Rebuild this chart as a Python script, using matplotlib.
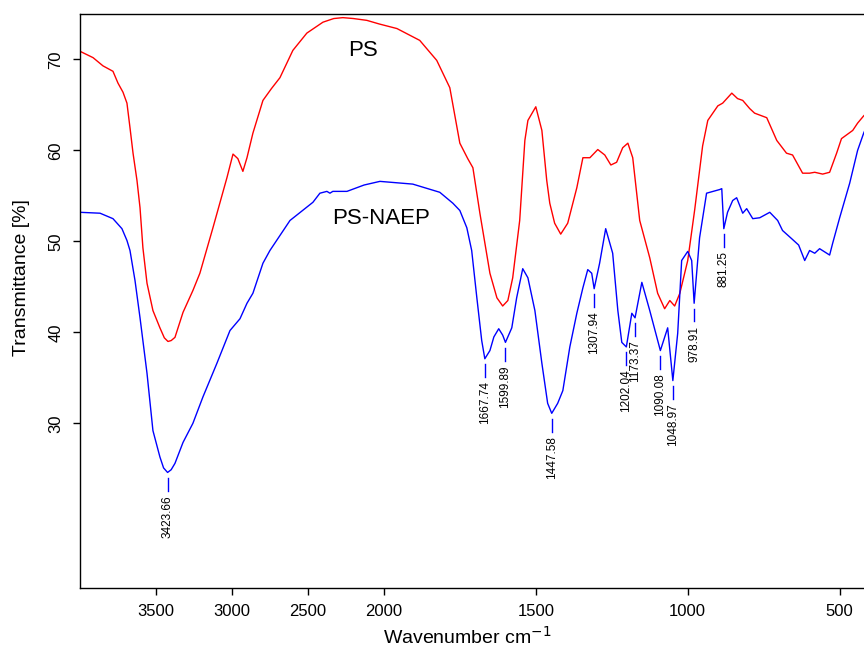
import numpy as np
import matplotlib
matplotlib.use('Agg')
import matplotlib.pyplot as plt

plt.rcParams['font.family'] = ['Liberation Sans', 'DejaVu Sans']

# PS spectrum (wavenumber cm-1, transmittance %)
ps_wn = [4000, 3914, 3849, 3783, 3750, 3717, 3691, 3671, 3651, 3625, 3605, 3586,
         3559, 3520, 3474, 3445, 3421, 3400, 3375, 3322, 3257, 3211, 3125, 3033, 2993, 2961,
         2928, 2901, 2862, 2796, 2740, 2684, 2599, 2507, 2401, 2330, 2270, 2200, 2112, 2030,
         1957, 1882, 1826, 1783, 1750, 1724, 1707, 1684, 1651, 1628, 1609, 1592, 1576, 1553,
         1536, 1526, 1500, 1480, 1464, 1454, 1438, 1418, 1395, 1365, 1345, 1322,
         1296, 1273, 1253, 1234, 1214, 1197, 1181, 1158, 1125, 1099, 1076, 1059,
         1043, 1026, 1000, 977, 951, 934, 901, 885, 855, 836, 819, 796, 780, 740,
         707, 675, 655, 622, 599, 582, 556, 533, 510, 494, 457, 441, 421, 400]
ps_t = [70.9, 70.2, 69.3, 68.7, 67.4, 66.4, 65.2, 62.5, 59.7, 56.7, 53.7, 49.3,
        45.4, 42.4, 40.5, 39.4, 39.0, 39.1, 39.45, 42.2, 44.6, 46.5, 51.5, 57.0, 59.6, 59.1,
        57.7, 59.2, 61.9, 65.5, 66.8, 68.0, 71.0, 72.9, 74.1, 74.5, 74.6, 74.5, 74.3, 73.9,
        73.4, 72.1, 69.9, 66.9, 60.8, 59.1, 58.1, 53.1, 46.5, 43.8, 42.9, 43.5, 46.0, 52.3,
        61.1, 63.3, 64.8, 62.2, 56.7, 54.2, 52.0, 50.8, 52.0, 55.9, 59.2, 59.2,
        60.1, 59.5, 58.4, 58.7, 60.3, 60.8, 59.2, 52.3, 48.2, 44.3, 42.6, 43.5,
        42.9, 44.3, 47.9, 53.5, 60.5, 63.3, 64.9, 65.2, 66.3, 65.7, 65.5, 64.6, 64.1, 63.6,
        61.1, 59.7, 59.5, 57.5, 57.5, 57.6, 57.4, 57.6, 59.7, 61.3, 62.2, 63.0, 63.8, 64.5]

# PS-NAEP spectrum
naep_wn = [4000, 3868, 3783, 3724, 3691, 3671, 3638, 3605, 3559, 3520, 3474, 3450, 3423.66,
           3400, 3375, 3322, 3257, 3191, 3099, 3013, 2947, 2901, 2862, 2796, 2750, 2618,
           2467, 2421, 2375, 2355, 2336, 2243, 2130, 2026, 1905, 1816, 1773, 1750, 1727,
           1711, 1694, 1678, 1667.74, 1651, 1638, 1622, 1609, 1599.89, 1579, 1563,
           1543, 1526, 1503, 1480, 1461, 1447.58, 1428, 1411, 1388, 1365, 1345, 1329,
           1316, 1307.94, 1290, 1270, 1247, 1230, 1217, 1202.04, 1184, 1173.37, 1151,
           1125, 1090.08, 1066, 1048.97, 1033, 1020, 1000, 987, 978.91, 961, 938, 895,
           888, 881.25, 869, 852, 839, 819, 806, 786, 763, 730, 704, 688, 658, 635,
           615, 599, 582, 566, 533, 523, 500, 467, 441, 421, 400]
naep_t = [53.2, 53.1, 52.5, 51.4, 50.1, 49.0, 45.7, 41.6, 35.5, 29.2, 26.3, 25.1, 24.6,
          24.9, 25.6, 27.9, 30.0, 32.9, 36.6, 40.2, 41.5, 43.2, 44.3, 47.6, 49.0, 52.3,
          54.3, 55.3, 55.5, 55.3, 55.5, 55.5, 56.2, 56.6, 56.3, 55.4, 54.2, 53.4, 51.5,
          49.0, 43.8, 39.1, 37.1, 38.0, 39.5, 40.4, 39.7, 38.9, 40.5, 43.8,
          47.0, 46.0, 42.4, 36.6, 32.2, 31.1, 32.2, 33.6, 38.4, 42.1, 44.9, 46.9,
          46.5, 44.8, 47.6, 51.4, 48.7, 42.4, 38.9, 38.4, 42.1, 41.6, 45.5,
          42.4, 38.0, 40.5, 34.7, 39.9, 47.9, 48.9, 47.9, 43.2, 50.4, 55.3, 55.7,
          55.8, 51.4, 53.2, 54.5, 54.8, 53.1, 53.6, 52.5, 52.6, 53.2, 52.3, 51.2, 50.3, 49.6,
          47.9, 49.0, 48.7, 49.2, 48.5, 49.8, 52.6, 56.4, 60.0, 61.9, 63.5]

peak_labels = ['3423.66', '1667.74', '1599.89', '1447.58', '1307.94', '1202.04',
               '1173.37', '1090.08', '1048.97', '978.91', '881.25']

x_ticks = [3500, 3000, 2500, 2000, 1500, 1000, 500]
y_ticks = [30, 40, 50, 60, 70]


# wavenumber axis is compressed by half above 2000 cm-1
def forward(x):
    x = np.asarray(x, dtype=float)
    return np.where(x <= 2000, x, 2000 + (x - 2000) / 2)


def inverse(u):
    u = np.asarray(u, dtype=float)
    return np.where(u <= 2000, u, 2000 + (u - 2000) * 2)


fig = plt.figure(figsize=(8.64, 6.51), dpi=100)
ax = fig.add_axes([0.0926, 0.0968, 0.9144, 0.8817])
ax.set_xscale('function', functions=(forward, inverse))

ax.plot(ps_wn, ps_t, color='red', lw=1.0)
ax.plot(naep_wn, naep_t, color='blue', lw=1.0)

# peak markers under the PS-NAEP curve
for label in peak_labels:
    wn = float(label)
    t = np.interp(wn, naep_wn[::-1], naep_t[::-1])
    ax.plot([wn, wn], [t - 0.6, t - 2.0], color='blue', lw=1.0)
    ax.text(wn, t - 2.5, label, rotation=90, ha='center', va='top', fontsize=8.5)

ax.text(2138, 71.0, 'PS', ha='center', va='center', fontsize=16)
ax.text(2020, 52.5, 'PS-NAEP', ha='center', va='center', fontsize=16)

ax.set_xlim(4000, 400)
ax.set_ylim(11.9, 75)
ax.set_xticks(x_ticks)
ax.set_xticklabels([str(v) for v in x_ticks])
ax.set_yticks(y_ticks)
ax.xaxis.set_minor_locator(matplotlib.ticker.NullLocator())
ax.yaxis.set_minor_locator(matplotlib.ticker.NullLocator())

ax.tick_params(direction='out', length=5, width=1, labelsize=12)
ax.tick_params(axis='x', pad=6.5)
ax.tick_params(axis='y', pad=7, labelrotation=90)
for lbl in ax.get_yticklabels():
    lbl.set_va('center')

for s in ax.spines.values():
    s.set_linewidth(1.0)

ax.set_xlabel('Wavenumber cm$^{-1}$', fontsize=14)
ax.set_ylabel('Transmittance [%]', fontsize=14)
ax.xaxis.set_label_coords(0.49, -0.066)
ax.yaxis.set_label_coords(-0.063, 0.54)

fig.savefig('out.png', dpi=100)
